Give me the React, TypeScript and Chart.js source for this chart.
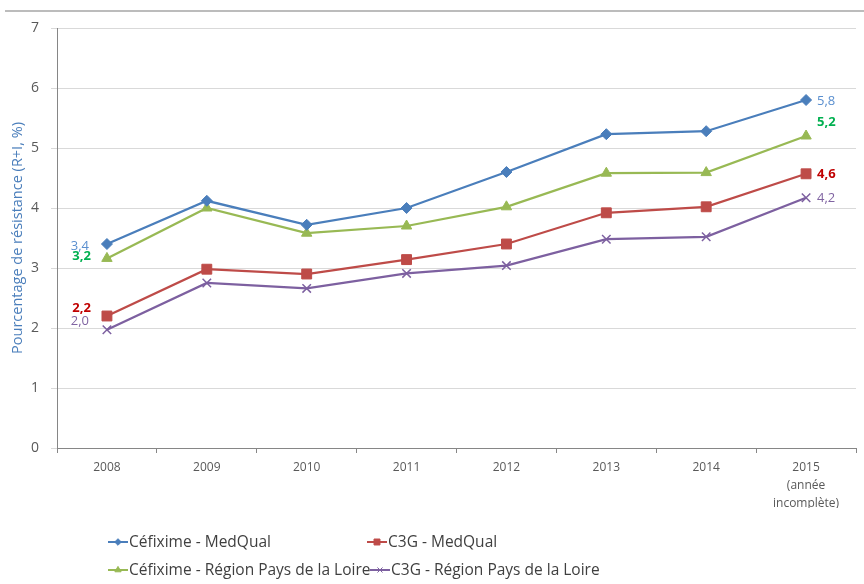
import React, { useEffect, useRef } from "react";
import { Chart, registerables } from "chart.js";
import { drawPoint } from "chart.js/helpers";

Chart.register(...registerables);

const years: (string | string[])[] = [
  "2008",
  "2009",
  "2010",
  "2011",
  "2012",
  "2013",
  "2014",
  ["2015", "(année", "incomplète)"],
];

const cefiximeMedQual = [3.4, 4.12, 3.72, 4.0, 4.6, 5.23, 5.28, 5.8];
const c3gMedQual = [2.2, 2.98, 2.9, 3.14, 3.4, 3.92, 4.02, 4.57];
const cefiximeRegion = [3.16, 4.0, 3.58, 3.7, 4.02, 4.58, 4.59, 5.2];
const c3gRegion = [1.97, 2.75, 2.66, 2.91, 3.04, 3.48, 3.52, 4.17];

const seriesLabels = [
  "Céfixime - MedQual",
  "C3G - MedQual",
  "Céfixime - Région Pays de la Loire",
  "C3G - Région Pays de la Loire",
];

const yTicks = [0, 1, 2, 3, 4, 5, 6, 7];
const yTitle = "Pourcentage de résistance (R+I, %)";

const FONT = '"Open Sans", sans-serif';

const labelStyles = [
  { color: "#5A8FCF", bold: false, first: { dx: -18, dy: 2 }, last: { dx: 11, dy: 1 } },
  { color: "#C00000", bold: true, first: { dx: -16, dy: -8 }, last: { dx: 11, dy: 0 } },
  { color: "#00B050", bold: true, first: { dx: -16, dy: -2 }, last: { dx: 11, dy: -14 } },
  { color: "#8064A2", bold: false, first: { dx: -18, dy: -9 }, last: { dx: 11, dy: 0 } },
];

const fmt = (v: number) => v.toFixed(1).replace(".", ",");

const frameLinePlugin = {
  id: "frameLine",
  beforeDraw(chart: any) {
    const ctx = chart.ctx;
    ctx.save();
    ctx.strokeStyle = "#a6a6a6";
    ctx.lineWidth = 1.5;
    ctx.beginPath();
    ctx.moveTo(5, 11);
    ctx.lineTo(864, 11);
    ctx.stroke();
    ctx.restore();
  },
};

const endLabelsPlugin = {
  id: "endLabels",
  afterDatasetsDraw(chart: any) {
    const ctx = chart.ctx;
    chart.data.datasets.forEach((ds: any, i: number) => {
      const meta = chart.getDatasetMeta(i);
      const st = labelStyles[i];
      const pts = meta.data;
      const first = pts[0];
      const last = pts[pts.length - 1];
      ctx.save();
      ctx.fillStyle = st.color;
      ctx.font = `${st.bold ? "bold " : ""}13px ${FONT}`;
      ctx.textBaseline = "middle";
      ctx.textAlign = "right";
      ctx.fillText(fmt(ds.data[0]), first.x + st.first.dx, first.y + st.first.dy);
      ctx.textAlign = "left";
      ctx.fillText(
        fmt(ds.data[ds.data.length - 1]),
        last.x + st.last.dx,
        last.y + st.last.dy
      );
      ctx.restore();
    });
  },
};

const legendPositions = [
  [108, 542],
  [367, 542],
  [108, 570],
  [370, 570],
];

const customLegendPlugin = {
  id: "customLegend",
  afterDraw(chart: any) {
    const ctx = chart.ctx;
    chart.data.datasets.forEach((ds: any, i: number) => {
      const [x, y] = legendPositions[i];
      ctx.save();
      ctx.strokeStyle = ds.borderColor;
      ctx.lineWidth = 2;
      ctx.beginPath();
      ctx.moveTo(x, y);
      ctx.lineTo(x + 20, y);
      ctx.stroke();
      ctx.fillStyle = ds.pointBackgroundColor;
      ctx.strokeStyle = ds.pointBorderColor;
      ctx.lineWidth = 1;
      drawPoint(
        ctx,
        { pointStyle: ds.pointStyle, radius: ds.pointRadius * 0.6, borderWidth: 1, rotation: 0 } as any,
        x + 10,
        y
      );
      ctx.fillStyle = "#3f3f3f";
      ctx.font = `15.5px ${FONT}`;
      ctx.textBaseline = "middle";
      ctx.textAlign = "left";
      ctx.fillText(ds.label, x + 21, y + 1);
      ctx.restore();
    });
  },
};

function makeDataset(label: string, data: number[], color: string, style: string, radius: number, bw: number) {
  return {
    label,
    data,
    borderColor: color,
    backgroundColor: color,
    pointBackgroundColor: color,
    pointBorderColor: color,
    borderWidth: 2.25,
    pointStyle: style,
    pointRadius: radius,
    pointHoverRadius: radius,
    pointBorderWidth: bw,
    tension: 0,
  };
}

export default function App() {
  const ref = useRef<HTMLCanvasElement | null>(null);

  useEffect(() => {
    if (!ref.current) return;
    Chart.defaults.font.family = FONT;
    const chart = new Chart(ref.current, {
      type: "line",
      data: {
        labels: years,
        datasets: [
          makeDataset(seriesLabels[0], cefiximeMedQual, "#4A7EBB", "rectRot", 5.5, 1),
          makeDataset(seriesLabels[1], c3gMedQual, "#BE4B48", "rect", 7, 1),
          makeDataset(seriesLabels[2], cefiximeRegion, "#98B954", "triangle", 6, 1),
          makeDataset(seriesLabels[3], c3gRegion, "#7D60A0", "crossRot", 6, 1.5),
        ] as any,
      },
      options: {
        responsive: false,
        animation: false,
        devicePixelRatio: 1,
        layout: { padding: { top: 28, left: 0, right: 2, bottom: 76 } },
        plugins: {
          legend: { display: false },
          tooltip: { enabled: false },
          title: { display: false },
        },
        scales: {
          x: {
            type: "category",
            offset: true,
            grid: {
              offset: true,
              drawOnChartArea: false,
              drawTicks: true,
              tickLength: 5,
              color: "#868686",
            },
            border: { color: "#868686", width: 1 },
            ticks: {
              color: "#595959",
              font: { size: 12, lineHeight: 1.5 },
              padding: 6,
              maxRotation: 0,
              autoSkip: false,
            },
            afterFit(scale: any) {
              scale.height = 60;
            },
          },
          y: {
            min: 0,
            max: 7,
            afterBuildTicks(scale: any) {
              scale.ticks = yTicks.map((v) => ({ value: v }));
            },
            grid: {
              color: "#d9d9d9",
              lineWidth: 1,
              tickLength: 6,
              drawTicks: true,
            },
            border: { color: "#868686", width: 1 },
            ticks: {
              color: "#595959",
              font: { size: 14 },
              padding: 12,
              callback: (v: any) => String(v),
            },
            title: {
              display: true,
              text: yTitle,
              color: "#4A7EBB",
              font: { size: 14.5, lineHeight: 1.2 },
              padding: { top: 9, bottom: 0 },
            },
            afterFit(scale: any) {
              scale.width = 57;
            },
          },
        },
      },
      plugins: [frameLinePlugin, endLabelsPlugin, customLegendPlugin],
    });
    return () => chart.destroy();
  }, []);

  return (
    <div style={{ position: "absolute", left: 0, top: 0, width: 864, height: 584, background: "#fff" }}>
      <canvas ref={ref} width={864} height={584} style={{ display: "block" }} />
    </div>
  );
}
